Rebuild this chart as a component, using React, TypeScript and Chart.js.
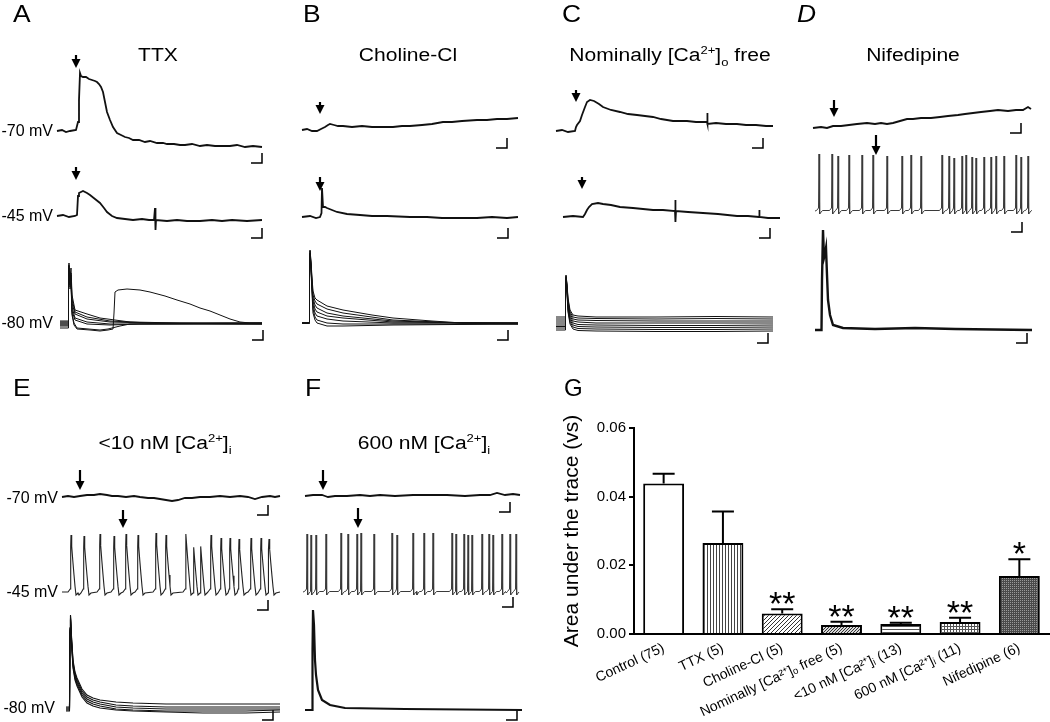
import React, { useEffect, useRef } from "react";
import { Chart, registerables } from "chart.js";

Chart.register(...registerables);
Chart.defaults.font.family = '"Liberation Sans", Arial, Helvetica, sans-serif';
Chart.defaults.color = "#000";

type Pt = [number, number];

// ================= Panel G data =================
const groupLabels = [
  "Control (75)",
  "TTX (5)",
  "Choline-Cl (5)",
  "Nominally [Ca²⁺]ₒ free (5)",
  "<10 nM [Ca²⁺]ᵢ (13)",
  "600 nM [Ca²⁺]ᵢ (11)",
  "Nifedipine (6)",
];
const areaMeans = [0.0438, 0.0265, 0.006, 0.0026, 0.0029, 0.0035, 0.0169];
const areaSems = [0.0029, 0.0092, 0.0012, 0.001, 0.0004, 0.0012, 0.0049];
const significance = ["", "", "**", "**", "**", "**", "*"];
const fillKinds = ["blank", "vertical", "diagonal", "diagonalDense", "horizontal", "grid", "dark"];
const yTickValues = [0, 0.02, 0.04, 0.06];

// ================= Panel A (TTX) =================
const ttx70: Pt[] = [[0,0],[5,1],[9,-1],[13,0],[19,1],[21,9],[22,31],[23,58],[24,55],[26,54],[29,54],[32,52],[35,51],[38,50],[40,49],[42,47],[44,44],[46,39],[48,29],[50,19],[53,11],[56,4],[60,-2],[64,-4],[68,-6],[72,-7],[76,-9],[82,-9],[88,-11],[93,-10],[100,-12],[106,-12],[110,-13],[117,-13],[123,-14],[128,-14],[135,-13],[143,-15],[150,-14],[158,-15],[165,-15],[173,-15],[180,-14],[188,-16],[196,-15],[205,-16]];
const ttx45: Pt[] = [[0,0],[6,1],[12,-1],[18,0],[20,1],[21,20],[22,23],[26,25],[30,23],[33,21],[38,17],[43,13],[47,8],[50,4],[55,0],[60,-2],[68,-3],[76,-4],[85,-3],[92,-4],[97,-4],[98,8],[98.5,-14],[99,-4],[110,-5],[120,-4],[130,-5],[143,-5],[155,-4],[165,-5],[175,-4],[190,-5],[205,-4]];
const ttx80a: Pt[] = [[0,2],[8,2],[8.5,55],[9,60],[10,45],[11,55],[12,28],[15,13],[21,11],[27,9],[40,5],[55,3],[70,1],[120,0],[202,0]];
const ttx80b: Pt[] = [[0,1],[8,1],[8.5,55],[9,58],[10,42],[11,50],[12,24],[15,11],[27,6],[50,2],[90,0],[202,0]];
const ttx80c: Pt[] = [[0,0],[8,0],[8.5,52],[9,57],[10,40],[11,48],[12,20],[15,9],[27,4],[50,1],[90,0],[202,-1]];
const ttx80d: Pt[] = [[0,-1],[8,-1],[8.5,50],[9,55],[10,38],[11,45],[12,16],[15,5],[27,1],[50,-1],[202,-1]];
const ttx80e: Pt[] = [[0,-2],[8,-2],[8.5,50],[9,54],[10,36],[11,42],[12,10],[14,0],[17,-5],[40,-7],[48,-6],[60,-3],[70,-1],[202,0]];
const ttx80f: Pt[] = [[0,-5],[8,-5],[8.5,48],[9,52],[10,34],[11,40],[12,8],[14,-2],[17,-6],[30,-7],[40,-8],[48,-7],[53,-6],[54,10],[55,31],[58,33],[67,34],[80,33],[90,31],[105,27],[117,23],[130,19],[140,15],[150,12],[160,8],[170,4],[180,1],[190,0],[202,0]];
const ttx80g: Pt[] = [[0,-3],[8,-3],[8.5,50],[9,55],[10,38],[11,44],[12,12],[15,3],[27,-1],[50,-2],[80,-1],[202,-1]];

// ================= Panel B (Choline-Cl) =================
const chol70: Pt[] = [[0,0],[5,1],[10,-1],[15,-1],[19,1],[23,3],[26,5],[28,6],[32,5],[36,4],[41,4],[50,3],[60,4],[70,3],[80,3],[91,3],[100,4],[108,4],[120,5],[130,6],[141,8],[150,8],[160,9],[175,10],[185,10],[195,11],[205,11],[216,12]];
const chol45: Pt[] = [[0,0],[8,1],[14,-1],[18,0],[19.5,4],[20,29],[21,10],[23,10],[25,9],[30,7],[35,5],[45,3],[58,2],[70,1],[85,1],[108,0],[125,0],[140,-1],[158,-1],[175,-1],[190,0],[205,-1],[216,0]];
const chol80a: Pt[] = [[0,0],[7,0],[7.5,60],[8,73],[9,62],[10,45],[11,32],[13,25],[15,23],[25,17],[41,13],[70,8],[91,5],[130,2],[160,0],[216,0]];
const chol80b: Pt[] = [[0,0],[7,0],[7.5,60],[8,72],[9,60],[10,42],[11,28],[13,22],[15,19],[25,14],[41,10],[91,3],[158,0],[216,0]];
const chol80c: Pt[] = [[0,0],[7,0],[7.5,58],[8,70],[9,58],[10,40],[11,25],[13,18],[15,15],[25,10],[41,7],[91,2],[158,0],[216,-1]];
const chol80d: Pt[] = [[0,0],[7,0],[7.5,58],[8,70],[9,56],[10,38],[11,22],[13,14],[15,11],[25,7],[41,5],[91,1],[216,0]];
const chol80e: Pt[] = [[0,0],[7,0],[7.5,57],[8,69],[9,55],[10,36],[11,18],[13,10],[15,7],[25,4],[41,2],[91,0],[216,0]];
const chol80f: Pt[] = [[0,0],[7,0],[7.5,56],[8,68],[9,54],[10,34],[11,14],[13,6],[15,3],[25,0],[41,-1],[91,-1],[216,-1]];
const chol80g: Pt[] = [[0,0],[7,0],[7.5,55],[8,67],[9,52],[10,30],[11,10],[13,3],[15,0],[25,-3],[41,-3],[91,-2],[216,-1]];

// ================= Panel C (Nominally Ca-free) =================
const nom70: Pt[] = [[0,0],[6,1],[12,-1],[19,0],[20,4],[21,6],[24,10],[26,16],[29,24],[31,29],[34,31],[38,30],[43,27],[47,24],[55,21],[64,19],[72,17],[81,16],[89,15],[97,14],[105,12],[117,10],[124,10],[131,10],[140,9],[151,9],[151.3,18],[151.6,7],[160,8],[170,7],[181,7],[190,6],[200,6],[210,5],[217,5]];
const nom45: Pt[] = [[0,0],[10,1],[20,0],[22,3],[24,7],[26,10],[29,13],[35,14],[40,13],[48,12],[57,10],[70,9],[80,8],[90,7],[100,7],[112,6],[112.3,17],[112.6,-5],[113,6],[125,5],[140,4],[155,3],[174,1],[185,1],[196,0],[196.3,7],[196.6,0],[205,-1],[217,-1]];
const nom80a: Pt[] = [[0,13],[9,13],[9.5,45],[10,55],[11,46],[12,32],[14,20],[17,15],[22,14],[40,13],[100,13],[160,13.5],[217,13]];
const nom80b: Pt[] = [[0,11],[9,11],[9.5,44],[10,54],[11,45],[12,30],[14,18],[17,13],[22,12],[40,11.5],[100,11],[160,11.5],[217,11]];
const nom80c: Pt[] = [[0,9],[9,9],[9.5,43],[10,53],[11,44],[12,28],[14,16],[17,11],[22,10],[40,9.5],[100,9],[160,9],[217,9]];
const nom80d: Pt[] = [[0,7],[9,7],[9.5,42],[10,52],[11,42],[12,26],[14,14],[17,9],[22,8],[40,7],[100,7],[160,7],[217,7]];
const nom80e: Pt[] = [[0,5],[9,5],[9.5,40],[10,50],[11,40],[12,24],[14,12],[17,7],[22,5.5],[40,5],[100,4.5],[160,4.5],[217,5]];
const nom80f: Pt[] = [[0,3.5],[9,3.5],[9.5,40],[10,50],[11,40],[12,22],[14,10],[17,5],[22,3.5],[40,3],[100,2.5],[160,2.5],[217,3]];
const nom80g: Pt[] = [[0,2],[9,2],[9.5,38],[10,48],[11,38],[12,20],[14,8],[17,3],[22,1.5],[40,1],[100,0.5],[160,0.5],[217,1]];
const nom80h: Pt[] = [[0,0],[9,0],[9.5,36],[10,46],[11,36],[12,18],[14,6],[17,1],[22,-0.5],[40,-1],[100,-1.5],[160,-1.5],[217,-1]];

// ================= Panel D (Nifedipine) =================
const nif70: Pt[] = [[0,0],[8,1],[14,0],[20,2],[28,2],[36,3],[44,4],[54,5],[62,4],[68,5],[74,4],[80,5],[87,7],[94,9],[100,9],[108,10],[118,10],[127,11],[135,12],[145,13],[152,14],[160,15],[168,16],[177,17],[185,18],[195,17],[203,18],[210,18],[215,21],[218,19]];
const nifSpikeTimes = [4, 17, 23, 34, 47, 58, 72, 87, 96, 106, 127, 134, 139, 147, 151, 157, 161, 169, 176, 181, 189, 201, 206, 213];
const nifSpikeHeights = [57, 57, 55, 56, 56, 56, 55, 55, 56, 55, 56, 55, 53, 55, 56, 54, 53, 54, 54, 55, 55, 56, 54, 55];
const nif80: Pt[] = [[0,0],[6.5,0],[7,50],[8,100],[9,72],[10,76],[11,82],[12,55],[13,30],[15,15],[18,5],[28,2],[60,1],[100,2],[140,1],[217,0]];

// ================= Panel E (<10 nM Ca) =================
const low70: Pt[] = [[0,0],[6,1],[12,0],[18,1],[25,2],[32,2],[38,3],[45,2],[50,1],[56,1],[64,0],[72,1],[78,0],[86,-1],[92,-1],[98,-2],[104,-3],[110,-4],[116,-3],[123,-1],[130,-1],[138,0],[148,0],[158,1],[168,0],[178,1],[186,0],[193,-2],[200,0],[208,1],[213,0],[218,1]];
const lowSpikeTimes = [9, 12, 22, 38, 52, 64, 76, 94, 104, 124, 131, 138, 149, 159, 168, 177, 189, 199, 207];
const lowSpikeHeights = [57, 53, 56, 58, 56, 58, 57, 59, 57, 58, 56, 57, 57, 54, 54, 53, 54, 54, 53];
const low80a: Pt[] = [[0,1],[3.5,1],[4,80],[4.5,93],[5.5,72],[7,48],[9,36],[11,30],[16,19],[21,13],[27,10],[34,8],[50,6],[67,5],[100,4],[137,4],[180,4],[214,4]];
const low80b: Pt[] = [[0,0],[3.5,0],[4,80],[4.5,92],[5.5,70],[7,46],[9,34],[11,28],[16,17],[21,11],[27,8],[34,6],[50,3],[67,2],[100,1],[137,1],[180,1],[214,1]];
const low80c: Pt[] = [[0,-1],[3.5,-1],[4,78],[4.5,90],[5.5,68],[7,44],[9,32],[11,26],[16,15],[21,9],[27,6],[34,4],[50,1],[67,0],[100,-1],[137,-1],[180,-1],[214,-1]];
const low80d: Pt[] = [[0,-2],[3.5,-2],[4,78],[4.5,89],[5.5,66],[7,42],[9,30],[11,24],[16,13],[21,7],[27,4],[34,2],[50,-1],[67,-2],[100,-3],[137,-3],[180,-3],[214,-2]];
const low80e: Pt[] = [[0,-3],[3.5,-3],[4,76],[4.5,88],[5.5,64],[7,40],[9,28],[11,22],[16,11],[21,5],[27,2],[34,0],[50,-2],[67,-3],[100,-4],[137,-5],[180,-5],[214,-4]];

// ================= Panel F (600 nM Ca) =================
const high70: Pt[] = [[0,0],[8,1],[17,1],[20,0],[23,-1],[30,0],[42,0],[55,1],[65,0],[75,1],[90,0],[108,1],[125,1],[142,1],[160,0],[175,1],[185,1],[192,3],[200,1],[208,2],[215,1]];
const highSpikeTimes = [4, 8, 13, 23, 38, 45, 54, 58, 71, 89, 94, 110, 113, 121, 130, 149, 153, 161, 165, 169, 179, 186, 190, 199, 201, 207, 213];
const highSpikeHeights = [58, 57, 57, 58, 59, 58, 58, 59, 58, 59, 57, 59, 58, 59, 59, 59, 58, 58, 57, 57, 58, 58, 57, 58, 57, 58, 58];
const high80: Pt[] = [[0,0],[7,0],[7.5,60],[8,100],[9,85],[10,50],[11,35],[13,20],[17,10],[25,5],[40,2],[100,1],[217,0]];

// spike waveform templates: [dt, fraction of height, offset]
const thinSpike: [number, number, number][] = [[-2.5,0,0.5],[-0.5,0,3],[0,1,0],[0.4,0,1],[0.9,0,-3],[2.2,0,-1],[3.5,0,0.5]];
const broadSpike: [number, number, number][] = [[-3,0,0],[-0.8,0,3],[-0.3,0.8,0],[0,1,0],[0.7,0.8,0],[1.8,0.55,0],[3,0.3,0],[4,0.1,0],[5,0,-3],[7,0,-1]];

function buildTrain(times: number[], heights: number[], end: number, shape: [number, number, number][]): Pt[] {
  const pts: Pt[] = [[0, 0]];
  times.forEach((t, i) => {
    shape.forEach(([dt, f, a]) => {
      const tt = t + dt;
      if (tt > pts[pts.length - 1][0] && tt < end) pts.push([tt, f * heights[i] + a]);
    });
  });
  pts.push([end, 0]);
  return pts;
}

// ================= layout =================
interface Row { x0: number; base: number; traces: Pt[][]; width: number; color?: string }
interface PanelSpec { box: [number, number, number, number]; rows: Row[]; arrows: [number, number, number][]; scaleBars: [number, number][] }

const panelSpecs: PanelSpec[] = [
  {
    box: [0, 0, 285, 365],
    rows: [
      { x0: 57, base: 131, traces: [ttx70], width: 1.8 },
      { x0: 57, base: 216, traces: [ttx45], width: 1.8 },
      { x0: 60, base: 323, traces: [ttx80a, ttx80b, ttx80c, ttx80d, ttx80e, ttx80f, ttx80g], width: 1 },
    ],
    arrows: [[76, 55, 68], [76, 167, 180]],
    scaleBars: [[262, 163], [262, 238], [263, 340]],
  },
  {
    box: [285, 0, 255, 365],
    rows: [
      { x0: 302, base: 130, traces: [chol70], width: 1.8 },
      { x0: 302, base: 217, traces: [chol45], width: 1.8 },
      { x0: 302, base: 323, traces: [chol80a, chol80b, chol80c, chol80d, chol80e, chol80f, chol80g], width: 1 },
    ],
    arrows: [[320, 102, 114], [320, 177, 191]],
    scaleBars: [[507, 148], [508, 238], [508, 340]],
  },
  {
    box: [540, 0, 250, 365],
    rows: [
      { x0: 556, base: 131, traces: [nom70], width: 1.8 },
      { x0: 563, base: 217, traces: [nom45], width: 1.8 },
      { x0: 556, base: 330, traces: [nom80a, nom80b, nom80c, nom80d, nom80e, nom80f, nom80g, nom80h], width: 1 },
    ],
    arrows: [[576, 90, 102], [582, 177, 189]],
    scaleBars: [[763, 148], [770, 238], [768, 343]],
  },
  {
    box: [790, 0, 260, 365],
    rows: [
      { x0: 813, base: 128, traces: [nif70], width: 1.9 },
      { x0: 815, base: 211, traces: [buildTrain(nifSpikeTimes, nifSpikeHeights, 217, thinSpike)], width: 1, color: "#3a3a3a" },
      { x0: 815, base: 330, traces: [nif80], width: 2.4 },
    ],
    arrows: [[834, 100, 117], [876, 135, 155]],
    scaleBars: [[1021, 133], [1022, 232], [1027, 343]],
  },
  {
    box: [0, 365, 290, 357],
    rows: [
      { x0: 62, base: 497, traces: [low70], width: 1.8 },
      { x0: 62, base: 592, traces: [buildTrain(lowSpikeTimes, lowSpikeHeights, 218, broadSpike)], width: 1.1, color: "#222" },
      { x0: 66, base: 708, traces: [low80a, low80b, low80c, low80d, low80e], width: 1.1 },
    ],
    arrows: [[80, 470, 490], [123, 510, 528]],
    scaleBars: [[268, 515], [268, 610], [273, 720]],
  },
  {
    box: [290, 365, 270, 357],
    rows: [
      { x0: 305, base: 496, traces: [high70], width: 1.8 },
      { x0: 303, base: 592, traces: [buildTrain(highSpikeTimes, highSpikeHeights, 216, thinSpike)], width: 1, color: "#3a3a3a" },
      { x0: 305, base: 710, traces: [high80], width: 2.2 },
    ],
    arrows: [[323, 470, 490], [358, 508, 528]],
    scaleBars: [[510, 512], [513, 607], [517, 720]],
  },
];

const arrowPlugin = {
  id: "arrows",
  afterDatasetsDraw(chart: any, _args: any, opts: any) {
    const list: [number, number, number][] = (opts && opts.list) || [];
    const { ctx } = chart;
    const xs = chart.scales.x;
    const ys = chart.scales.y;
    ctx.save();
    ctx.fillStyle = "#000";
    ctx.strokeStyle = "#000";
    ctx.lineWidth = 2.2;
    list.forEach(([ax, y1, y2]) => {
      const px = xs.getPixelForValue(ax);
      const p1 = ys.getPixelForValue(y1);
      const p2 = ys.getPixelForValue(y2);
      ctx.beginPath();
      ctx.moveTo(px, p1);
      ctx.lineTo(px, p2 - 7);
      ctx.stroke();
      ctx.beginPath();
      ctx.moveTo(px - 4.5, p2 - 9);
      ctx.lineTo(px + 4.5, p2 - 9);
      ctx.lineTo(px, p2);
      ctx.closePath();
      ctx.fill();
    });
    ctx.restore();
  },
};

function TracePanel({ spec }: { spec: PanelSpec }) {
  const ref = useRef<HTMLCanvasElement>(null);
  useEffect(() => {
    const [bx, by, bw, bh] = spec.box;
    const datasets: any[] = [];
    spec.rows.forEach((row) => {
      row.traces.forEach((tr) => {
        datasets.push({
          data: tr.map(([t, v]) => ({ x: row.x0 + t, y: row.base - v })),
          borderColor: row.color || "#111",
          borderWidth: row.width,
          pointRadius: 0,
          tension: 0,
          fill: false,
          clip: false,
        });
      });
    });
    spec.scaleBars.forEach(([cx, cy]) => {
      datasets.push({
        data: [{ x: cx - 11, y: cy }, { x: cx, y: cy }, { x: cx, y: cy - 10 }],
        borderColor: "#000",
        borderWidth: 1.5,
        pointRadius: 0,
        tension: 0,
        fill: false,
        clip: false,
      });
    });
    const chart = new Chart(ref.current as HTMLCanvasElement, {
      type: "line",
      data: { datasets },
      options: {
        animation: false,
        responsive: false,
        maintainAspectRatio: false,
        events: [],
        layout: { padding: 0 },
        scales: {
          x: { type: "linear", display: false, min: bx, max: bx + bw },
          y: { type: "linear", display: false, min: by, max: by + bh, reverse: true },
        },
        plugins: {
          legend: { display: false },
          tooltip: { enabled: false },
          arrows: { list: spec.arrows },
        } as any,
      },
      plugins: [arrowPlugin as any],
    });
    return () => chart.destroy();
  }, [spec]);
  const [bx, by, bw, bh] = spec.box;
  return <canvas ref={ref} width={bw} height={bh} style={{ position: "absolute", left: bx, top: by, width: bw, height: bh }} />;
}

function makeFill(kind: string): any {
  if (kind === "blank") return "#ffffff";
  const c = document.createElement("canvas");
  const s = kind === "dark" ? 2 : kind === "diagonal" ? 4 : 3;
  c.width = s;
  c.height = s;
  const g = c.getContext("2d") as CanvasRenderingContext2D;
  g.fillStyle = kind === "diagonalDense" ? "#d8d8d8" : kind === "dark" ? "#4a4a4a" : "#ffffff";
  g.fillRect(0, 0, s, s);
  if (kind === "vertical") { g.fillStyle = "#444"; g.fillRect(0, 0, 1, s); }
  if (kind === "horizontal") { g.fillStyle = "#555"; g.fillRect(0, 0, s, 1); }
  if (kind === "grid") { g.fillStyle = "#555"; g.fillRect(0, 0, s, 1); g.fillRect(0, 0, 1, s); }
  if (kind === "diagonal" || kind === "diagonalDense") {
    g.fillStyle = "#333";
    for (let i = 0; i < s; i++) g.fillRect(i, s - 1 - i, 1, 1);
  }
  if (kind === "dark") { g.fillStyle = "#9a9a9a"; g.fillRect(0, 0, 1, 1); }
  return g.createPattern(c, "repeat");
}

const semPlugin = {
  id: "semBars",
  afterDatasetsDraw(chart: any) {
    const { ctx } = chart;
    const ys = chart.scales.y;
    const meta = chart.getDatasetMeta(0);
    ctx.save();
    ctx.strokeStyle = "#000";
    ctx.fillStyle = "#000";
    ctx.lineWidth = 2;
    meta.data.forEach((el: any, i: number) => {
      const cx = el.x;
      const yTop = ys.getPixelForValue(areaMeans[i] + areaSems[i]);
      const yM = ys.getPixelForValue(areaMeans[i]);
      ctx.beginPath();
      ctx.moveTo(cx, yM);
      ctx.lineTo(cx, yTop);
      ctx.moveTo(cx - 11, yTop);
      ctx.lineTo(cx + 11, yTop);
      ctx.stroke();
      const s = significance[i];
      if (s) {
        ctx.font = '34px "Liberation Sans", Arial, sans-serif';
        ctx.textAlign = "center";
        ctx.textBaseline = "alphabetic";
        const m = ctx.measureText(s);
        ctx.fillText(s, cx, yTop - 5 - m.actualBoundingBoxDescent);
      }
    });
    ctx.restore();
  },
};

function AreaChart() {
  const ref = useRef<HTMLCanvasElement>(null);
  useEffect(() => {
    const chart = new Chart(ref.current as HTMLCanvasElement, {
      type: "bar",
      data: {
        labels: groupLabels,
        datasets: [
          {
            data: areaMeans,
            backgroundColor: fillKinds.map(makeFill),
            borderColor: "#000",
            borderWidth: 2,
            borderSkipped: "start",
            barPercentage: 0.69,
            categoryPercentage: 1,
          } as any,
        ],
      },
      options: {
        animation: false,
        responsive: false,
        maintainAspectRatio: false,
        events: [],
        layout: { padding: { top: 48, right: 1, left: 0, bottom: 0 } },
        plugins: { legend: { display: false }, tooltip: { enabled: false } },
        scales: {
          x: {
            grid: { display: true, drawOnChartArea: false, drawTicks: false },
            border: { display: true, color: "#000", width: 2 },
            ticks: { color: "#000", font: { size: 14 }, minRotation: 25, maxRotation: 25, padding: 6, autoSkip: false },
            afterFit: (s: any) => { s.height = 88; },
          },
          y: {
            min: 0,
            max: 0.06,
            afterBuildTicks: (s: any) => { s.ticks = yTickValues.map((v) => ({ value: v })); },
            ticks: { color: "#000", font: { size: 15 }, padding: 3, callback: (v: any) => Number(v).toFixed(2) },
            grid: { drawOnChartArea: false, drawTicks: true, tickLength: 5, color: "#000", lineWidth: 2 },
            border: { display: true, color: "#000", width: 2 },
            title: { display: true, text: "Area under the trace (vs)", font: { size: 21 }, color: "#000", padding: 0 },
            afterFit: (s: any) => { s.width = 74; },
          },
        },
      } as any,
      plugins: [semPlugin as any],
    });
    return () => chart.destroy();
  }, []);
  return <canvas ref={ref} width={490} height={342} style={{ position: "absolute", left: 560, top: 380, width: 490, height: 342 }} />;
}

function Txt(props: { x: number; y: number; size: number; anchor?: "left" | "right" | "center"; sx?: number; italic?: boolean; children: any }) {
  const { x, y, size, anchor = "left", sx = 1, italic = false, children } = props;
  const tx = anchor === "left" ? "0%" : anchor === "right" ? "-100%" : "-50%";
  const origin = anchor === "left" ? "left center" : anchor === "right" ? "right center" : "center center";
  return (
    <div
      style={{
        position: "absolute",
        left: x,
        top: y - size / 2,
        height: size,
        lineHeight: size + "px",
        fontSize: size,
        whiteSpace: "nowrap",
        transform: `translateX(${tx}) scaleX(${sx})`,
        transformOrigin: origin,
        fontStyle: italic ? "italic" : "normal",
      }}
    >
      {children}
    </div>
  );
}

const Sup = ({ children }: { children: any }) => (
  <span style={{ fontSize: "0.62em", verticalAlign: "super", lineHeight: 0 }}>{children}</span>
);
const Sub = ({ children }: { children: any }) => (
  <span style={{ fontSize: "0.62em", verticalAlign: "sub", lineHeight: 0 }}>{children}</span>
);

export default function App() {
  return (
    <div
      style={{
        position: "fixed",
        left: 0,
        top: 0,
        width: 1050,
        height: 722,
        background: "#fff",
        overflow: "hidden",
        fontFamily: '"Liberation Sans", Arial, Helvetica, sans-serif',
        color: "#000",
      }}
    >
      {panelSpecs.map((p, i) => (
        <TracePanel key={i} spec={p} />
      ))}
      <AreaChart />

      <Txt x={13} y={13.5} size={24} sx={1.1}>A</Txt>
      <Txt x={303} y={13.5} size={24} sx={1.1}>B</Txt>
      <Txt x={562} y={13.5} size={24} sx={1.1}>C</Txt>
      <Txt x={797} y={13.5} size={24} sx={1.1} italic>D</Txt>
      <Txt x={13} y={388} size={24} sx={1.1}>E</Txt>
      <Txt x={305} y={388} size={24} sx={1.1}>F</Txt>
      <Txt x={564} y={388} size={24} sx={1.0}>G</Txt>

      <Txt x={158} y={55} size={18} anchor="center" sx={1.17}>TTX</Txt>
      <Txt x={408} y={55} size={18} anchor="center" sx={1.17}>Choline-Cl</Txt>
      <Txt x={670} y={55} size={18} anchor="center" sx={1.17}>
        Nominally [Ca<Sup>2+</Sup>]<Sub>o</Sub> free
      </Txt>
      <Txt x={913} y={55} size={18} anchor="center" sx={1.17}>Nifedipine</Txt>
      <Txt x={165} y={443} size={18} anchor="center" sx={1.17}>
        &lt;10 nM [Ca<Sup>2+</Sup>]<Sub>i</Sub>
      </Txt>
      <Txt x={424} y={443} size={18} anchor="center" sx={1.17}>
        600 nM [Ca<Sup>2+</Sup>]<Sub>i</Sub>
      </Txt>

      <Txt x={53} y={131} size={16} anchor="right">-70 mV</Txt>
      <Txt x={53} y={216} size={16} anchor="right">-45 mV</Txt>
      <Txt x={53} y={323} size={16} anchor="right">-80 mV</Txt>
      <Txt x={58} y={498} size={16} anchor="right">-70 mV</Txt>
      <Txt x={58} y={592} size={16} anchor="right">-45 mV</Txt>
      <Txt x={55} y={708} size={16} anchor="right">-80 mV</Txt>
    </div>
  );
}
